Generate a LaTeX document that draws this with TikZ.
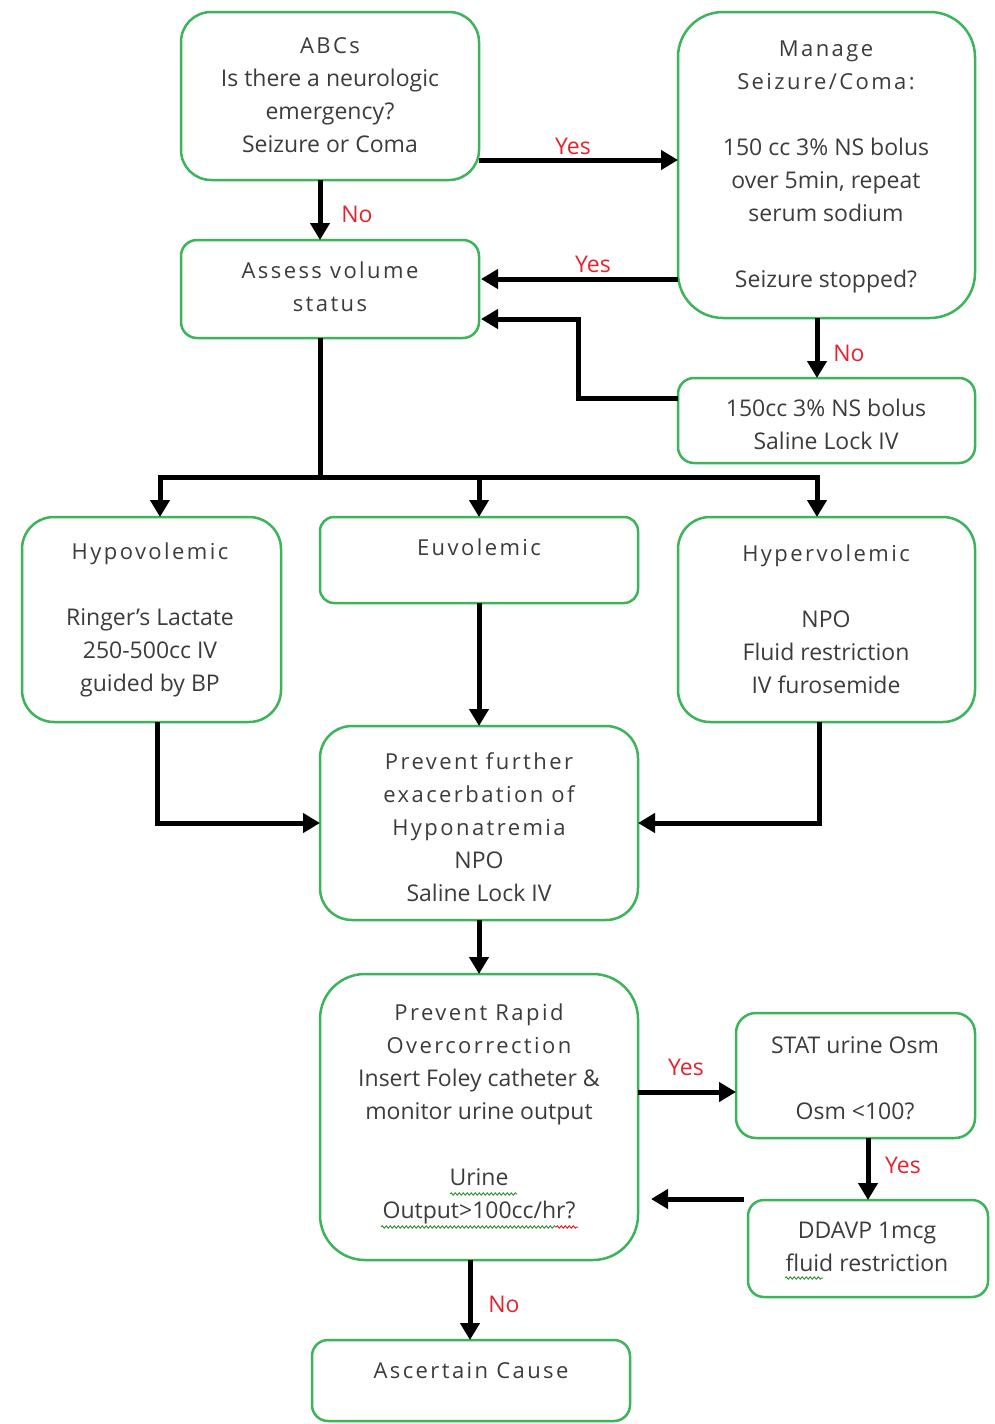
\documentclass[tikz,border=0pt]{standalone}
\usepackage{fontspec}
\setmainfont{Open Sans}
\newfontfamily\spcfam[LetterSpace=11]{Open Sans}
\newcommand\hd{\spcfam\fontsize{22}{33}\selectfont}
\usetikzlibrary{arrows.meta,calc,decorations.pathmorphing}
\definecolor{bgreen}{RGB}{60,180,90}
\definecolor{txt}{RGB}{60,60,60}
\definecolor{lred}{RGB}{230,35,45}
\definecolor{sqg}{RGB}{60,150,60}
\newcommand\mybox[6]{\node[box, rounded corners=#6, minimum width={#4-#2}, minimum height={#5-#3}] (#1) at ({(#2+#4)/2},{(#3+#5)/2}) {};}
\begin{document}
\begin{tikzpicture}[x=1pt,y=-1pt,
 box/.style={draw=bgreen, line width=2.5pt, inner sep=0pt, outer sep=0pt, fill=white},
 txtn/.style={text=txt, align=center, font=\fontsize{23}{33}\selectfont, inner sep=0pt},
 lab/.style={text=lred, font=\fontsize{23}{26}\selectfont, inner sep=0pt},
 arr/.style={line width=5pt, -{Triangle[length=17pt,width=19pt]}},
 ln/.style={line width=5pt},
 squig/.style={line width=1pt, decorate, decoration={snake, amplitude=1.2pt, segment length=4pt}}]
\fill[white] (0,0) rectangle (994,1424);
\useasboundingbox (0,0) rectangle (994,1424);
% boxes
\mybox{abc}{181}{12}{479}{180}{30pt}
\mybox{manage}{678}{12}{975}{318}{45pt}
\mybox{assess}{181}{240}{479}{338}{16pt}
\mybox{bolus}{678}{378}{975}{463}{16pt}
\mybox{hypo}{22}{517}{281}{722}{32pt}
\mybox{euvo}{320}{517}{638}{603}{14pt}
\mybox{hyper}{678}{517}{975}{722}{32pt}
\mybox{prev}{320}{726}{638}{920}{32pt}
\mybox{rapid}{320}{974}{638}{1260}{45pt}
\mybox{stat}{736}{1013}{975}{1138}{20pt}
\mybox{ddavp}{748}{1200}{988}{1297}{16pt}
\mybox{cause}{312}{1340}{630}{1421}{16pt}
% texts
\node[txtn] (t-abc) at (330,95) {\hd ABCs\\Is there a neurologic\\emergency?\\Seizure or Coma};
\node[txtn] (t-manage) at (826,167) {\hd Manage\\\hd Seizure/Coma:\\[33pt]150 cc 3\% NS bolus\\over 5min, repeat\\serum sodium\\[33pt]Seizure stopped?};
\node[txtn] (t-assess) at (330,287) {\hd Assess volume\\\hd status};
\node[txtn] (t-bolus) at (826,424) {150cc 3\% NS bolus\\Saline Lock IV};
\node[txtn] (t-hypo) at (150,619.5) {\hd Hypovolemic\\[33pt]Ringer’s Lactate\\250-500cc IV\\guided by BP};
\node[txtn] (t-euvo) at (479,547) {\hd Euvolemic};
\node[txtn] (t-hyper) at (826,619.5) {\hd Hypervolemic\\[33pt]NPO\\Fluid restriction\\IV furosemide};
\node[txtn] (t-prev) at (479,827) {\hd Prevent further\\\hd exacerbation of\\\hd Hyponatremia\\NPO\\Saline Lock IV};
\node[txtn] (t-rapid) at (479,1113.5) {\hd Prevent Rapid\\\hd Overcorrection\\Insert Foley catheter \&\\monitor urine output\\[33pt]Urine\\Output>100cc/hr?};
\node[txtn] (t-stat) at (855,1078) {STAT urine Osm\\[33pt]Osm <100?};
\node[txtn] (t-ddavp) at (867,1247) {DDAVP 1mcg\\fluid restriction};
\node[txtn] (t-cause) at (471,1371) {\hd Ascertain Cause};
% spell-check squiggles
\draw[squig, sqg] (450,1194) -- (517,1194);
\draw[squig, sqg] (381,1227) -- (556,1227);
\draw[squig, lred] (556,1227) -- (578,1227);
\draw[squig, sqg] (785,1278) -- (823,1278);
% connectors
\draw[arr] ([yshift=-64pt]abc.east) coordinate (a1) -- (a1 -| manage.west);
\draw[arr] ([xshift=-10pt]abc.south) coordinate (a2) -- (a2 |- assess.north);
\draw[arr] ([yshift=-114pt]manage.west) coordinate (a3) -- ([xshift=2pt]a3 -| assess.east);
\draw[arr] ([xshift=-9.5pt]manage.south) coordinate (a4) -- (a4 |- bolus.north);
\draw[arr] ([yshift=22.5pt]bolus.west) -- ++(-100,0) coordinate (a5) |- ([xshift=2pt,yshift=-30pt]assess.east);
\coordinate (j0) at (320,477);
\coordinate (j1) at (160,477);
\coordinate (j2) at (479,477);
\coordinate (j3) at (817,477);
\draw[ln] (assess.south -| j0) -- (j0);
\draw[ln] ([xshift=-2.5pt]j1) -- ([xshift=2.5pt]j3);
\draw[arr] (j1) -- (j1 |- hypo.north);
\draw[arr] (j2) -- (j2 |- euvo.north);
\draw[arr] (j3) -- (j3 |- hyper.north);
\draw[arr] (euvo.south) -- (prev.north);
\draw[arr] ([xshift=5.5pt]hypo.south) |- (prev.west);
\draw[arr] ([xshift=-7.5pt]hyper.south) |- (prev.east);
\draw[arr] (prev.south) -- (rapid.north);
\draw[arr] ([yshift=25pt]rapid.east) coordinate (a6) -- (a6 -| stat.west);
\draw[arr] ([xshift=12.5pt]stat.south) coordinate (a7) -- (a7 |- ddavp.north);
\draw[arr, shorten >=13pt] ([yshift=49.5pt,xshift=-4pt]ddavp.west) coordinate (a8) -- (a8 -| rapid.east);
\draw[arr] ([xshift=-9pt]rapid.south) coordinate (a9) -- (a9 |- cause.north);
% labels
\node[lab] (l1) at (573,146) {Yes};
\node[lab] (l2) at (357,214) {No};
\node[lab] (l3) at (593,264) {Yes};
\node[lab] (l4) at (849,353) {No};
\node[lab] (l5) at (686,1067) {Yes};
\node[lab] (l6) at (903,1165) {Yes};
\node[lab] (l7) at (504,1304) {No};
\end{tikzpicture}
\end{document}
